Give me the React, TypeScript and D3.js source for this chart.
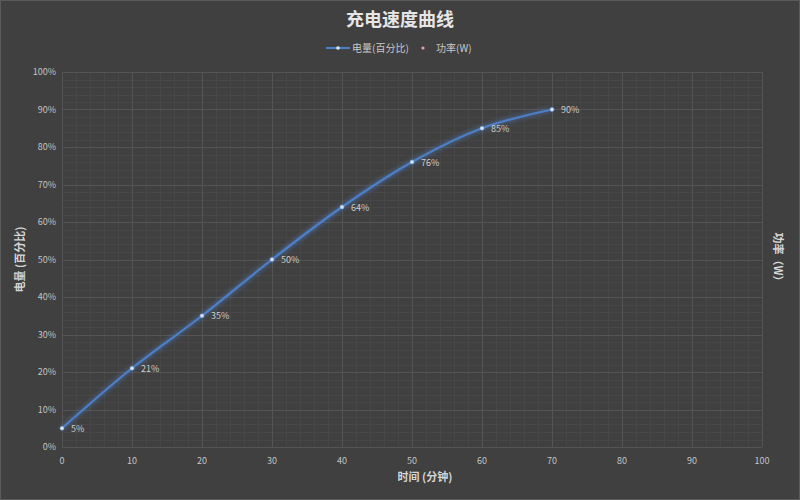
import { useEffect, useRef } from 'react';
import * as d3 from 'd3';

const minutes = [0, 10, 20, 30, 40, 50, 60, 70];
const batteryPct = [5, 21, 35, 50, 64, 76, 85, 90];
const xTicks = [0, 10, 20, 30, 40, 50, 60, 70, 80, 90, 100];
const yTicks = [0, 10, 20, 30, 40, 50, 60, 70, 80, 90, 100];
const legendLabels = ['电量(百分比)', '功率(W)'];

const W = 800;
const H = 500;
const FONT = '"Noto Sans CJK SC", "Noto Sans", sans-serif';

export default function App() {
  const svgRef = useRef<SVGSVGElement>(null);

  useEffect(() => {
    document.body.style.margin = '0';
    if (!svgRef.current) return;
    const svg = d3.select(svgRef.current);
    svg.selectAll('*').remove();

    const left = 62, right = 762, top = 72, bottom = 447;
    const x = d3.scaleLinear().domain([0, 100]).range([left, right]);
    const y = d3.scaleLinear().domain([0, 100]).range([bottom, top]);

    // background
    svg.append('rect').attr('width', W).attr('height', H).attr('fill', '#404040');
    svg.append('rect').attr('x', 0.5).attr('y', 0.5).attr('width', W - 1).attr('height', H - 1)
      .attr('fill', 'none').attr('stroke', '#5a5a5a');

    const defs = svg.append('defs');
    const glow = defs.append('filter').attr('id', 'glow')
      .attr('x', '-20%').attr('y', '-20%').attr('width', '140%').attr('height', '140%');
    glow.append('feGaussianBlur').attr('stdDeviation', 2.5).attr('result', 'b');
    const merge = glow.append('feMerge');
    merge.append('feMergeNode').attr('in', 'b');
    merge.append('feMergeNode').attr('in', 'SourceGraphic');

    // minor grid
    const minor = d3.range(0, 101, 2).filter(v => v % 10 !== 0);
    svg.append('g').selectAll('line.mx').data(minor).enter().append('line')
      .attr('x1', d => x(d) + 0.5).attr('x2', d => x(d) + 0.5)
      .attr('y1', top).attr('y2', bottom)
      .attr('stroke', '#474747').attr('stroke-width', 1);
    svg.append('g').selectAll('line.my').data(minor).enter().append('line')
      .attr('y1', d => Math.round(y(d)) + 0.5).attr('y2', d => Math.round(y(d)) + 0.5)
      .attr('x1', left).attr('x2', right)
      .attr('stroke', '#474747').attr('stroke-width', 1);

    // major grid
    svg.append('g').selectAll('line').data(xTicks).enter().append('line')
      .attr('x1', d => x(d) + 0.5).attr('x2', d => x(d) + 0.5)
      .attr('y1', top).attr('y2', bottom)
      .attr('stroke', '#545454');
    svg.append('g').selectAll('line').data(yTicks).enter().append('line')
      .attr('y1', d => Math.round(y(d)) + 0.5).attr('y2', d => Math.round(y(d)) + 0.5)
      .attr('x1', left).attr('x2', right)
      .attr('stroke', '#545454');

    // tick labels
    svg.append('g').selectAll('text').data(yTicks).enter().append('text')
      .attr('x', left - 6).attr('y', d => y(d)).attr('dy', '0.35em')
      .attr('text-anchor', 'end').attr('fill', '#c4c4c4')
      .attr('font-size', 9).attr('font-family', FONT)
      .text(d => `${d}%`);
    svg.append('g').selectAll('text').data(xTicks).enter().append('text')
      .attr('x', d => x(d)).attr('y', bottom + 17)
      .attr('text-anchor', 'middle').attr('fill', '#c4c4c4')
      .attr('font-size', 9).attr('font-family', FONT)
      .text(d => d);

    // series line
    const pts = minutes.map((m, i) => [m, batteryPct[i]] as [number, number]);
    const line = d3.line<[number, number]>()
      .x(d => x(d[0])).y(d => y(d[1]))
      .curve(d3.curveCatmullRom.alpha(0.5));
    svg.append('path').attr('d', line(pts)).attr('fill', 'none')
      .attr('stroke', '#4d7fc9').attr('stroke-width', 2.2).attr('filter', 'url(#glow)');

    svg.append('g').selectAll('circle').data(pts).enter().append('circle')
      .attr('cx', d => x(d[0])).attr('cy', d => y(d[1])).attr('r', 2)
      .attr('fill', '#dce8f8').attr('stroke', '#6f9bdc').attr('stroke-width', 0.6);

    svg.append('g').selectAll('text').data(pts).enter().append('text')
      .attr('x', d => x(d[0]) + 9).attr('y', d => y(d[1]) + 0.5)
      .attr('dy', '0.35em').attr('fill', '#cfcfcf')
      .attr('font-size', 9).attr('font-family', FONT)
      .text(d => `${d[1]}%`);

    // title
    svg.append('text').attr('x', W / 2).attr('y', 26).attr('text-anchor', 'middle')
      .attr('fill', '#e6e6e6').attr('font-size', 18).attr('font-weight', 'bold')
      .attr('font-family', FONT).text('充电速度曲线');

    // legend
    const lg = svg.append('g').attr('font-family', FONT).attr('font-size', 10).attr('fill', '#c8c8c8');
    lg.append('line').attr('x1', 326).attr('x2', 350).attr('y1', 48).attr('y2', 48)
      .attr('stroke', '#4d7fc9').attr('stroke-width', 2.2);
    lg.append('circle').attr('cx', 338).attr('cy', 48).attr('r', 1.8).attr('fill', '#dce8f8');
    lg.append('text').attr('x', 352).attr('y', 48).attr('dy', '0.35em').text(legendLabels[0]);
    lg.append('circle').attr('cx', 423).attr('cy', 48).attr('r', 1.6).attr('fill', '#d9a7b0');
    lg.append('text').attr('x', 436).attr('y', 48).attr('dy', '0.35em').text(legendLabels[1]);

    // axis titles
    svg.append('text').attr('x', (left + right) / 2 + 13).attr('y', 481).attr('text-anchor', 'middle')
      .attr('fill', '#d6d6d6').attr('font-size', 11).attr('font-weight', 'bold')
      .attr('font-family', FONT).text('时间 (分钟)');
    svg.append('text').attr('transform', `translate(24, ${(top + bottom) / 2}) rotate(-90)`)
      .attr('text-anchor', 'middle').attr('fill', '#d6d6d6').attr('font-size', 11)
      .attr('font-weight', 'bold').attr('font-family', FONT).text('电量 (百分比)');
    svg.append('text').attr('transform', `translate(774, ${(top + bottom) / 2}) rotate(90)`)
      .attr('text-anchor', 'middle').attr('fill', '#d6d6d6').attr('font-size', 11)
      .attr('font-weight', 'bold').attr('font-family', FONT).text('功率（W）');
  }, []);

  return <svg ref={svgRef} width={W} height={H} style={{ display: 'block' }} />;
}
